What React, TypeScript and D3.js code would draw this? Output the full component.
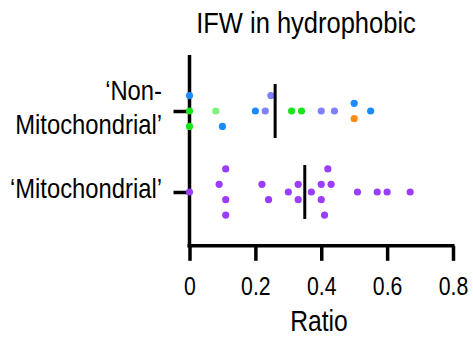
import { useEffect, useRef } from 'react'
import * as d3 from 'd3'

// categories (top to bottom)
const categories = ['Non-Mitochondrial', 'Mitochondrial']
const categoryLines = [['‘Non-', 'Mitochondrial’'], ['‘Mitochondrial’']]

// Non-Mitochondrial points: ratio, colour group, swarm lane
const nonMitoValues = [0, 0, 0, 0.08, 0.1, 0.2, 0.23, 0.247, 0.31, 0.34, 0.4, 0.44, 0.5, 0.5, 0.55]
const nonMitoGroups = ['blue', 'green', 'green', 'lightgreen', 'blue', 'blue', 'lavender', 'lavender', 'green', 'green', 'lavender', 'lavender', 'blue', 'orange', 'blue']
const nonMitoLanes = [-2, 0, 2, 0, 2, 0, 0, -2, 0, 0, 0, 0, -1, 1, 0]

// Mitochondrial points
const mitoValues = [0, 0.11, 0.09, 0.11, 0.11, 0.22, 0.24, 0.3, 0.33, 0.33, 0.37, 0.4, 0.4, 0.42, 0.43, 0.41, 0.51, 0.57, 0.6, 0.67]
const mitoLanes = [0, -3, -1, 1, 3, -1, 1, 0, -1, 1, 0, -1, 1, -3, -1, 3, 0, 0, 0, 0]

// centre line per category
const centreValues = [0.26, 0.35]

const xTicks = [0, 0.2, 0.4, 0.6, 0.8]

const groupColors: Record<string, string> = {
  blue: '#1a8cff',
  green: '#19e619',
  lightgreen: '#80f080',
  lavender: '#8080ff',
  orange: '#ff8c1a',
  purple: '#9a3dff',
}

export default function App() {
  const svgRef = useRef<SVGSVGElement>(null)

  useEffect(() => {
    if (!svgRef.current) return
    const svg = d3.select(svgRef.current)
    svg.selectAll('*').remove()

    const width = 473
    const height = 341
    const font = 'Liberation Sans, Arial, sans-serif'
    const squeeze = 0.85 // the original text is condensed

    svg.attr('width', width).attr('height', height)

    const addText = (tx: number, ty: number, str: string, size: number, anchor: string) =>
      svg.append('g')
        .attr('transform', `translate(${tx},${ty}) scale(${squeeze},1)`)
        .append('text')
        .attr('text-anchor', anchor)
        .attr('font-family', font)
        .attr('font-size', size)
        .attr('fill', '#000')
        .text(str)

    const x = d3.scaleLinear().domain([0, 0.8]).range([189.5, 453])
    const y = d3.scalePoint<string>().domain(categories).range([111, 192])
    const laneStep = 7.7

    // x axis
    const xAxis = svg.append('g').attr('transform', 'translate(0,245.8)')
      .call(d3.axisBottom(x).tickValues(xTicks).tickFormat((d) => (d === 0 ? '0' : d3.format('.1f')(d as number))).tickSize(15).tickPadding(16))
    xAxis.select('.domain').attr('stroke', '#000').attr('stroke-width', 3.5)
      .attr('d', `M${x(0) - 2},0H${x(0.8) + 1.5}`)
    xAxis.selectAll('.tick line').attr('stroke', '#000').attr('stroke-width', 3.5)
    xAxis.selectAll('.tick text')
      .attr('fill', '#000')
      .attr('font-family', font)
      .attr('font-size', 25)
      .attr('transform', `scale(${squeeze},1)`)

    // y axis
    const yAxis = svg.append('g').attr('transform', `translate(${x(0)},0)`)
      .call(d3.axisLeft(y).tickSize(16).tickFormat(() => ''))
    yAxis.select('.domain').attr('stroke', '#000').attr('stroke-width', 3.5)
      .attr('d', 'M0,55V247.5')
    yAxis.selectAll('.tick line').attr('stroke', '#000').attr('stroke-width', 3.5)

    const points = [
      ...nonMitoValues.map((v, i) => ({ cat: categories[0], v, lane: nonMitoLanes[i], color: groupColors[nonMitoGroups[i]] })),
      ...mitoValues.map((v, i) => ({ cat: categories[1], v, lane: mitoLanes[i], color: groupColors.purple })),
    ]

    // dots
    svg.append('g')
      .selectAll('circle')
      .data(points)
      .join('circle')
      .attr('cx', (d) => x(d.v))
      .attr('cy', (d) => (y(d.cat) as number) + d.lane * laneStep)
      .attr('r', 3.6)
      .attr('fill', (d) => d.color)

    // centre lines
    svg.append('g')
      .selectAll('line')
      .data(categories)
      .join('line')
      .attr('x1', (_, i) => x(centreValues[i]))
      .attr('x2', (_, i) => x(centreValues[i]))
      .attr('y1', (d) => (y(d) as number) - 27)
      .attr('y2', (d) => (y(d) as number) + 27)
      .attr('stroke', '#000')
      .attr('stroke-width', 3)

    // category labels
    categories.forEach((c, i) => {
      const lines = categoryLines[i]
      const cy = y(c) as number
      lines.forEach((ln, j) => {
        addText(162, lines.length === 1 ? cy + 6 : cy - 11 + j * 34, ln, 28, 'end')
      })
    })

    // title
    addText(306, 33, 'IFW in hydrophobic', 30, 'middle')

    // x label
    addText(319, 331, 'Ratio', 29, 'middle')
  }, [])

  return (
    <div style={{ position: 'absolute', left: 0, top: 0 }}>
      <svg ref={svgRef} style={{ display: 'block' }}></svg>
    </div>
  )
}
